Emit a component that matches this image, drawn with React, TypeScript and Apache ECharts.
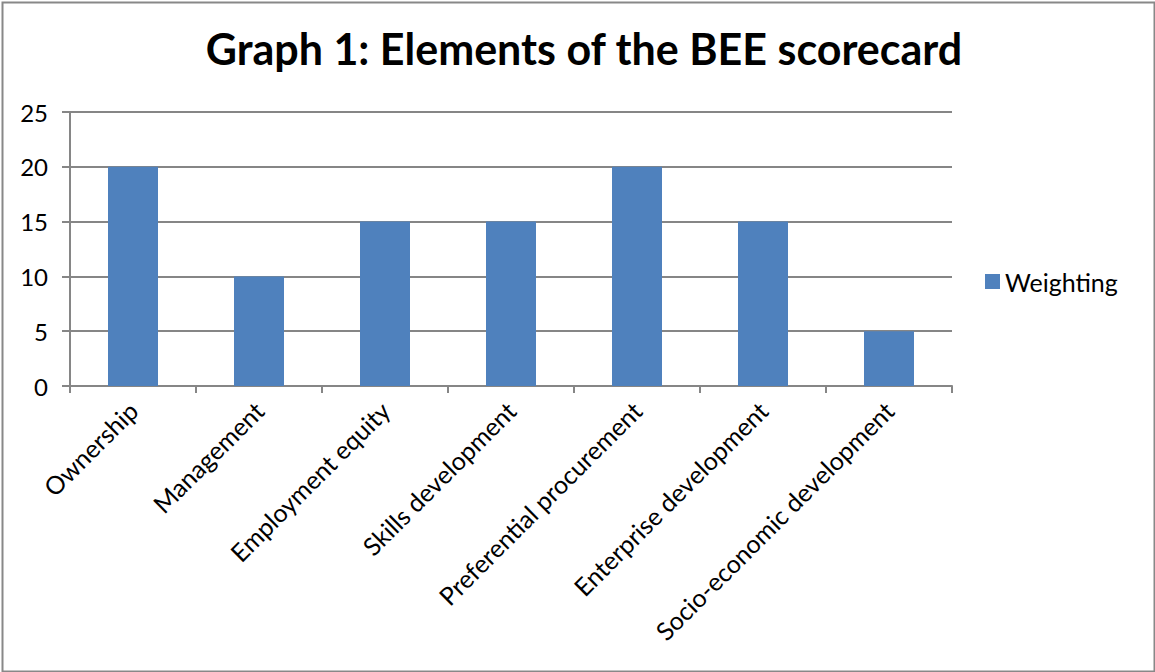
import React, { useEffect, useRef } from "react";
import * as echarts from "echarts";

const categories = [
  "Ownership",
  "Management",
  "Employment equity",
  "Skills development",
  "Preferential procurement",
  "Enterprise development",
  "Socio-economic development",
];
const weighting = [20, 10, 15, 15, 20, 15, 5];
const titleText = "Graph 1: Elements of the BEE scorecard";
const seriesName = "Weighting";

const FONT = "Lato, 'Noto Sans', sans-serif";

export default function App() {
  const ref = useRef<HTMLDivElement>(null);
  useEffect(() => {
    if (!ref.current) return;
    const chart = echarts.init(ref.current, null, { renderer: "svg" });
    chart.setOption({
      animation: false,
      backgroundColor: "#ffffff",
      textStyle: { fontFamily: FONT },
      title: {
        text: titleText,
        top: 22,
        left: 579,
        textAlign: "center",
        textStyle: { fontFamily: FONT, fontWeight: "bold", fontSize: 43, color: "#000" },
      },
      legend: {
        left: 980,
        top: 264,
        itemWidth: 15,
        itemHeight: 15,
        itemGap: 8,
        icon: "rect",
        textStyle: { fontFamily: FONT, fontSize: 25, color: "#000" },
        data: [seriesName],
      },
      grid: { left: 70, right: 203, top: 112, bottom: 286, containLabel: false },
      xAxis: {
        type: "category",
        data: categories,
        axisLine: { show: true, lineStyle: { color: "#868686", width: 2 } },
        axisTick: { show: true, alignWithLabel: false, length: 7, lineStyle: { color: "#868686", width: 2 } },
        axisLabel: { rotate: 45, interval: 0, margin: 20, fontFamily: FONT, fontSize: 25, color: "#000" },
      },
      yAxis: {
        type: "value",
        min: 0,
        max: 25,
        interval: 5,
        axisLine: { show: true, lineStyle: { color: "#868686", width: 2 } },
        axisTick: { show: true, inside: false, length: 8, lineStyle: { color: "#868686", width: 2 } },
        splitLine: { show: true, lineStyle: { color: "#868686", width: 2 } },
        axisLabel: { margin: 22, fontFamily: FONT, fontSize: 24, color: "#000" },
      },
      series: [
        {
          name: seriesName,
          type: "bar",
          data: weighting,
          barWidth: 50,
          itemStyle: { color: "#4F81BD" },
        },
      ],
      graphic: [
        {
          type: "rect",
          left: 0,
          top: 0,
          shape: { x: 1, y: 1, width: 1152, height: 669 },
          style: { fill: "none", stroke: "#888888", lineWidth: 2 },
          silent: true,
        },
      ],
    });
    return () => chart.dispose();
  }, []);
  return (
    <div
      ref={ref}
      style={{ position: "fixed", left: 0, top: 0, width: 1155, height: 672 }}
    />
  );
}
